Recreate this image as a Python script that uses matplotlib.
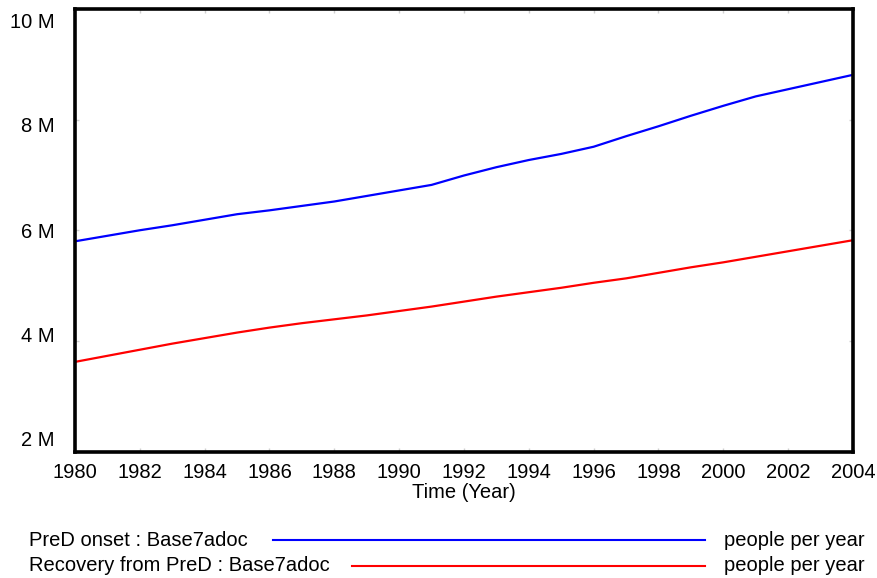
import numpy as np
import matplotlib.pyplot as plt
import matplotlib.transforms as mtransforms
from matplotlib.lines import Line2D

plt.rcParams['font.family'] = ['Liberation Sans', 'DejaVu Sans']

years = list(range(1980, 2005))
# values in millions of people per year
pred_onset = [5.80, 5.90, 6.00, 6.09, 6.19, 6.29, 6.36, 6.44, 6.52, 6.62,
              6.72, 6.82, 6.99, 7.14, 7.27, 7.38, 7.51, 7.70, 7.88, 8.07,
              8.25, 8.42, 8.55, 8.68, 8.81]
recovery = [3.62, 3.73, 3.84, 3.95, 4.05, 4.15, 4.24, 4.32, 4.39, 4.46,
            4.54, 4.62, 4.71, 4.80, 4.88, 4.96, 5.05, 5.13, 5.23, 5.33,
            5.42, 5.52, 5.62, 5.72, 5.82]
series_names = ['PreD onset : Base7adoc', 'Recovery from PreD : Base7adoc']
series_colors = ['#0000ff', '#ff0000']
unit_label = 'people per year'
y_ticks = [2, 4, 6, 8, 10]
y_tick_labels = ['2 M', '4 M', '6 M', '8 M', '10 M']
x_ticks = list(range(1980, 2005, 2))

W, H = 878, 578
fig = plt.figure(figsize=(W / 100, H / 100), dpi=100)
ax = fig.add_axes([75 / W, 1 - 451.5 / H, (853 - 75) / W, (451.5 - 9) / H])

ax.plot(years, pred_onset, color=series_colors[0], lw=1.6)
ax.plot(years, recovery, color=series_colors[1], lw=1.6)

ax.set_xlim(1980, 2004)
ax.set_ylim(2, 10)
ax.set_xticks(x_ticks)
ax.set_yticks(y_ticks)
ax.set_yticklabels(y_tick_labels)
ax.tick_params(direction='in', length=3, width=1, color='#d0d0d0',
               top=True, right=True, labelsize=14.5)
ax.tick_params(axis='x', pad=8)
ax.tick_params(axis='y', pad=15)

# shift y labels inward like the original (top down, bottom up)
offsets = [12.5, 6, 0, -5, -11.5]
for lab, off in zip(ax.get_yticklabels(), offsets):
    lab.set_transform(lab.get_transform() +
                      mtransforms.ScaledTranslation(0, off / 100, fig.dpi_scale_trans))

for sp in ax.spines.values():
    sp.set_linewidth(2.6)
    sp.set_color('black')

ax.set_xlabel('Time (Year)', fontsize=14.5, va='center')
ax.xaxis.set_label_coords(0.5, -(493 - 451.5) / (451.5 - 9))

# custom legend rows: label, line, unit
rows = [(540, 273), (565.5, 352)]
for (yc, x0), name, col in zip(rows, series_names, series_colors):
    fig.text(29 / W, 1 - yc / H, name, fontsize=14.5, va='center', ha='left')
    fig.add_artist(Line2D([x0 / W, 705 / W], [1 - yc / H, 1 - yc / H],
                          color=col, lw=1.5, transform=fig.transFigure))
    fig.text(724 / W, 1 - yc / H, unit_label, fontsize=14.5, va='center', ha='left')

fig.savefig('out.png', dpi=100)
